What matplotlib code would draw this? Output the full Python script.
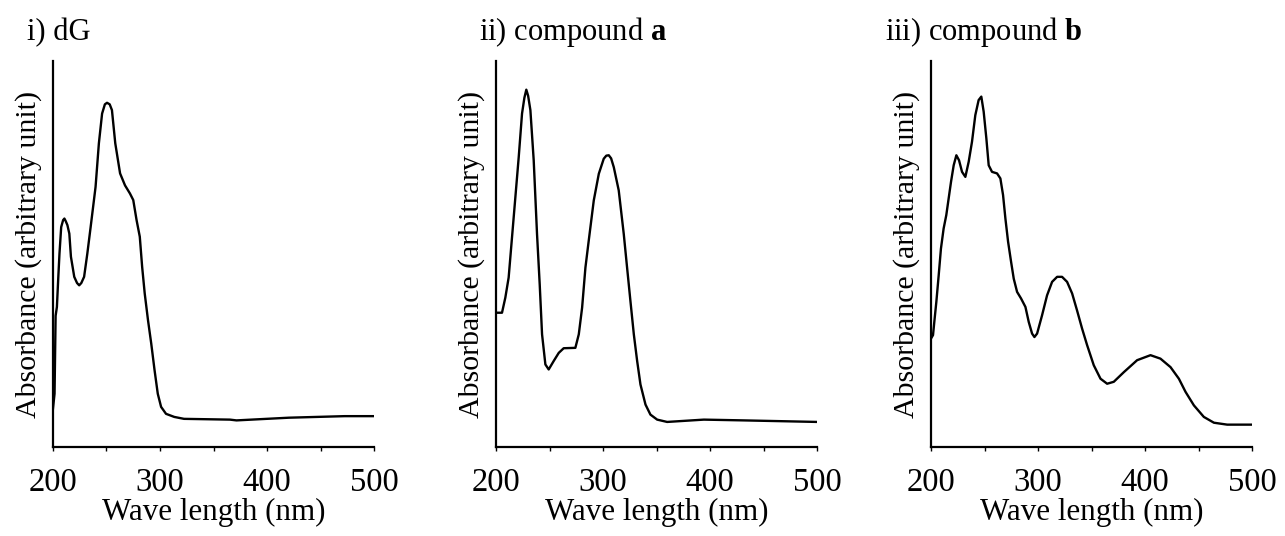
import matplotlib
matplotlib.use("Agg")
import matplotlib.pyplot as plt

plt.rcParams['font.family'] = ['Liberation Serif', 'DejaVu Serif']
plt.rcParams['mathtext.fontset'] = 'custom'
plt.rcParams['mathtext.bf'] = 'Liberation Serif:bold'
plt.rcParams['mathtext.rm'] = 'Liberation Serif'

# i) dG  (wavelength nm, absorbance in arbitrary units)
dg_wl = [200, 201.5, 202.5, 203.7, 205.0, 206.1, 207.7, 209.5, 210.7, 212.0, 213.5, 215.3,
         216.8, 219.9, 222.5, 224.5, 226.5, 229.1, 232.1, 235.2, 238.3, 239.8, 242.9,
         245.9, 248.5, 250.5, 253.0, 255.1, 258.2, 262.7, 267.3, 271.9, 275.0, 278.1,
         281.1, 283.3, 285.7, 288.8, 291.8, 294.9, 297.9, 301.0, 305.6, 313.3, 322.4,
         365.3, 371.4, 420.4, 472.4, 500]
dg_abs = [9.9, 13.8, 34.0, 36.3, 44.0, 50.1, 57.0, 58.8, 59.2, 58.5, 57.5, 55.3,
          49.3, 44.1, 42.5, 41.9, 42.5, 44.1, 50.1, 57.0, 64.0, 67.4, 78.7,
          86.4, 88.8, 89.2, 88.8, 87.3, 78.7, 70.9, 67.8, 65.7, 64.0, 58.8,
          54.5, 46.7, 39.8, 32.8, 26.8, 19.9, 13.8, 10.4, 8.6, 7.8, 7.3,
          7.1, 6.9, 7.6, 8.0, 8.0]

# ii) compound a
a_wl = [200, 205.6, 208.7, 211.8, 216.5, 221.2, 224.3, 226.5, 228.3, 230.0, 232.1, 235.2,
        238.3, 240.8, 243.0, 246.1, 249.2, 253.9, 258.6, 263.2, 274.1, 277.3, 280.4,
        283.5, 286.6, 291.3, 296.0, 300.6, 303.0, 305.3, 307.5, 310.0, 314.6, 319.3,
        322.4, 325.5, 328.7, 331.8, 334.9, 339.6, 344.2, 350.5, 359.8, 394.1, 431.5, 500]
a_abs = [34.8, 34.8, 38.7, 43.9, 59.5, 75.1, 86.4, 90.5, 92.6, 91.0, 87.3, 74.3,
         55.2, 42.2, 29.2, 21.4, 20.1, 22.3, 24.4, 25.6, 25.7, 29.2, 36.1,
         46.5, 53.5, 63.9, 70.8, 74.7, 75.5, 75.6, 74.8, 72.5, 66.5, 55.2,
         46.5, 37.9, 29.2, 22.3, 16.2, 11.0, 8.4, 7.1, 6.5, 7.1, 6.9, 6.5]

# iii) compound b
b_wl = [200, 201.9, 203.1, 205.0, 207.2, 209.3, 211.8, 214.3, 216.5, 218.7, 221.2,
        223.7, 226.2, 229.0, 232.1, 235.2, 238.3, 241.4, 244.5, 247.0, 249.2, 251.7,
        253.9, 257.0, 261.7, 264.8, 267.3, 269.5, 272.0, 274.8, 277.3, 280.4, 284.1,
        288.2, 291.3, 294.4, 296.6, 299.1, 303.7, 308.4, 313.1, 317.8, 322.4, 327.1,
        331.8, 336.4, 341.1, 345.8, 352.0, 358.3, 364.5, 370.7, 380.1, 392.5, 405.0,
        414.3, 423.7, 431.5, 437.7, 445.5, 454.8, 464.2, 476.6, 500]
b_abs = [28.1, 29.0, 32.4, 37.6, 44.5, 51.4, 56.6, 60.1, 64.4, 68.7, 73.0,
         75.6, 74.3, 71.3, 70.0, 73.9, 79.1, 86.0, 89.9, 90.8, 86.9, 80.0,
         73.0, 71.3, 70.9, 69.6, 65.3, 59.2, 53.2, 48.0, 43.6, 40.2, 38.5,
         36.3, 32.4, 29.4, 28.5, 29.4, 34.1, 39.3, 42.8, 44.1, 44.1, 42.8,
         39.8, 35.4, 30.7, 26.4, 21.2, 17.7, 16.4, 16.9, 19.4, 22.5, 23.8,
         22.9, 20.7, 17.7, 14.3, 10.8, 7.8, 6.3, 5.8, 5.8]

titles = ['i) dG', r'ii) compound $\mathbf{a}$', r'iii) compound $\mathbf{b}$']
xticks = [200, 300, 400, 500]

fig = plt.figure(figsize=(12.85, 5.36), dpi=100)
lefts = [0.0412, 0.386, 0.7245]
title_x = [0.021, 0.373, 0.689]
series = [(dg_wl, dg_abs), (a_wl, a_abs), (b_wl, b_abs)]

for i, (wl, ab) in enumerate(series):
    ax = fig.add_axes([lefts[i], 0.166, 0.25, 0.72])
    ax.plot(wl, ab, color='black', lw=1.7)
    ax.set_xlim(200, 500)
    ax.set_ylim(0, 100)
    for s in ['top', 'right']:
        ax.spines[s].set_visible(False)
    for s in ['left', 'bottom']:
        ax.spines[s].set_linewidth(1.6)
    ax.set_xticks(xticks)
    ax.set_xticks([250, 350, 450], minor=True)
    ax.tick_params(axis='x', which='both', direction='out', length=3, width=1,
                   labelsize=23.5, pad=12)
    ax.set_yticks([])
    ax.set_xlabel('Wave length (nm)', fontsize=22.3, labelpad=0)
    ax.set_ylabel('Absorbance (arbitrary unit)', fontsize=21.5, labelpad=8)
    fig.text(title_x[i], 0.925, titles[i], fontsize=22, va='baseline')

fig.savefig('out.png', dpi=100)
